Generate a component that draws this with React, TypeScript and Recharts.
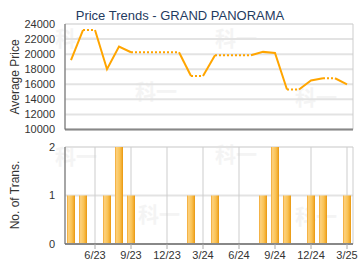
import {
  Bar,
  CartesianGrid,
  ComposedChart,
  Line,
  XAxis,
  YAxis,
} from 'recharts'

const months = [
  '4/23', '5/23', '6/23', '7/23', '8/23', '9/23', '10/23', '11/23',
  '12/23', '1/24', '2/24', '3/24', '4/24', '5/24', '6/24', '7/24',
  '8/24', '9/24', '10/24', '11/24', '12/24', '1/25', '2/25', '3/25',
]
// average price per month as drawn (months without sales keep the last price)
const prices = [
  19200, 23200, 23200, 18000, 21000, 20250, 20250, 20250,
  20250, 20250, 17100, 17100, 19850, 19850, 19850, 19850,
  20300, 20150, 15300, 15300, 16500, 16800, 16800, 16000,
]
const trans = [
  1, 1, 0, 1, 2, 1, 0, 0,
  0, 0, 1, 0, 1, 0, 0, 0,
  1, 2, 1, 0, 1, 1, 0, 1,
]
const quarterTicks = ['6/23', '9/23', '12/23', '3/24', '6/24', '9/24', '12/24', '3/25']
const priceTicks = [10000, 12000, 14000, 16000, 18000, 20000, 22000, 24000]
const transTicks = [0, 1, 2]
const watermarks = [
  [55, 27], [135, 80], [215, 27], [295, 86],
  [55, 145], [138, 203], [215, 143], [295, 205],
]

const FONT = '"Liberation Sans", Arial, sans-serif'
const ORANGE = '#ffa500'
const TICK = { fontSize: 11, fill: '#333', fontFamily: FONT }

// a segment into a month with no sales is drawn dotted
type Run = { start: number; end: number; dotted: boolean }
const runs: Run[] = []
for (let i = 1; i < months.length; i++) {
  const dotted = trans[i] === 0
  const last = runs[runs.length - 1]
  if (last && last.dotted === dotted && last.end === i - 1) last.end = i
  else runs.push({ start: i - 1, end: i, dotted })
}

const rows = months.map((month, i) => {
  const row: Record<string, string | number | null> = { month, price: prices[i], trans: trans[i] }
  runs.forEach((r, k) => {
    row[`r${k}`] = i >= r.start && i <= r.end ? prices[i] : null
  })
  return row
})

const sideLabel = (text: string, top: number) => (
  <div
    style={{
      position: 'absolute',
      left: 15,
      top,
      transform: 'translate(-50%, -50%) rotate(-90deg)',
      whiteSpace: 'nowrap',
      fontSize: 12,
      lineHeight: '12px',
      color: '#333',
      fontFamily: FONT,
    }}
  >
    {text}
  </div>
)

const grids = () => [
  <CartesianGrid key="h" vertical={false} stroke="#e3e3e3" strokeWidth={2} />,
  <CartesianGrid key="v" horizontal={false} stroke="#cdcdcd" />,
]

const App = () => {
  return (
    <div
      style={{
        position: 'absolute',
        left: 0,
        top: 0,
        width: 360,
        height: 270,
        background: '#fff',
        overflow: 'hidden',
      }}
    >
      {watermarks.map(([x, y], i) => (
        <span
          key={i}
          style={{
            position: 'absolute',
            left: x,
            top: y,
            fontSize: 21,
            lineHeight: '20px',
            fontWeight: 700,
            color: '#f4f4f4',
            fontFamily: '"Noto Sans CJK SC", sans-serif',
          }}
        >
          科一
        </span>
      ))}

      <div
        style={{
          position: 'absolute',
          left: 0,
          top: 8,
          width: 360,
          textAlign: 'center',
          fontSize: 13,
          lineHeight: '15px',
          color: '#1f3b5f',
          fontFamily: FONT,
        }}
      >
        Price Trends - GRAND PANORAMA
      </div>
      {sideLabel('Average Price', 77)}
      {sideLabel('No. of Trans.', 195)}

      <div style={{ position: 'absolute', left: 0, top: 0 }}>
        <ComposedChart
          width={360}
          height={140}
          data={rows}
          margin={{ top: 24, right: 7, left: 0, bottom: 9.5 }}
        >
          {grids()}
          <XAxis
            dataKey="month"
            scale="band"
            ticks={quarterTicks}
            interval={0}
            tick={false}
            tickLine={false}
            height={1}
            axisLine={{ stroke: '#888', strokeWidth: 2 }}
          />
          <YAxis
            width={65}
            domain={[10000, 24000]}
            ticks={priceTicks}
            interval={0}
            tick={TICK}
            tickLine={false}
            tickMargin={4}
            axisLine={{ stroke: '#666' }}
          />
          {runs.map((r, k) => (
            <Line
              key={k}
              dataKey={`r${k}`}
              stroke={ORANGE}
              strokeWidth={2}
              strokeDasharray={r.dotted ? '2 2' : undefined}
              dot={false}
              activeDot={false}
              connectNulls={false}
              isAnimationActive={false}
            />
          ))}
        </ComposedChart>
      </div>

      <div style={{ position: 'absolute', left: 0, top: 140 }}>
        <ComposedChart
          width={360}
          height={130}
          data={rows}
          margin={{ top: 7, right: 7, left: 0, bottom: 0 }}
        >
          <defs>
            <linearGradient id="barGrad" x1="0" y1="0" x2="1" y2="0">
              <stop offset="0%" stopColor="#f0a52e" />
              <stop offset="20%" stopColor="#fdd17c" />
              <stop offset="60%" stopColor="#f9c254" />
              <stop offset="85%" stopColor="#f2aa2c" />
              <stop offset="100%" stopColor="#e6960e" />
            </linearGradient>
          </defs>
          {grids()}
          <XAxis
            dataKey="month"
            ticks={quarterTicks}
            interval={0}
            tick={TICK}
            tickSize={5}
            tickMargin={2}
            tickLine={{ stroke: '#aaa' }}
            height={26}
            axisLine={{ stroke: '#888', strokeWidth: 2 }}
          />
          <YAxis
            width={65}
            domain={[0, 2]}
            ticks={transTicks}
            interval={0}
            tick={TICK}
            tickLine={false}
            tickMargin={4}
            axisLine={{ stroke: '#666' }}
          />
          <Bar dataKey="trans" barSize={8} fill="url(#barGrad)" isAnimationActive={false} />
        </ComposedChart>
      </div>
    </div>
  )
}

export default App
